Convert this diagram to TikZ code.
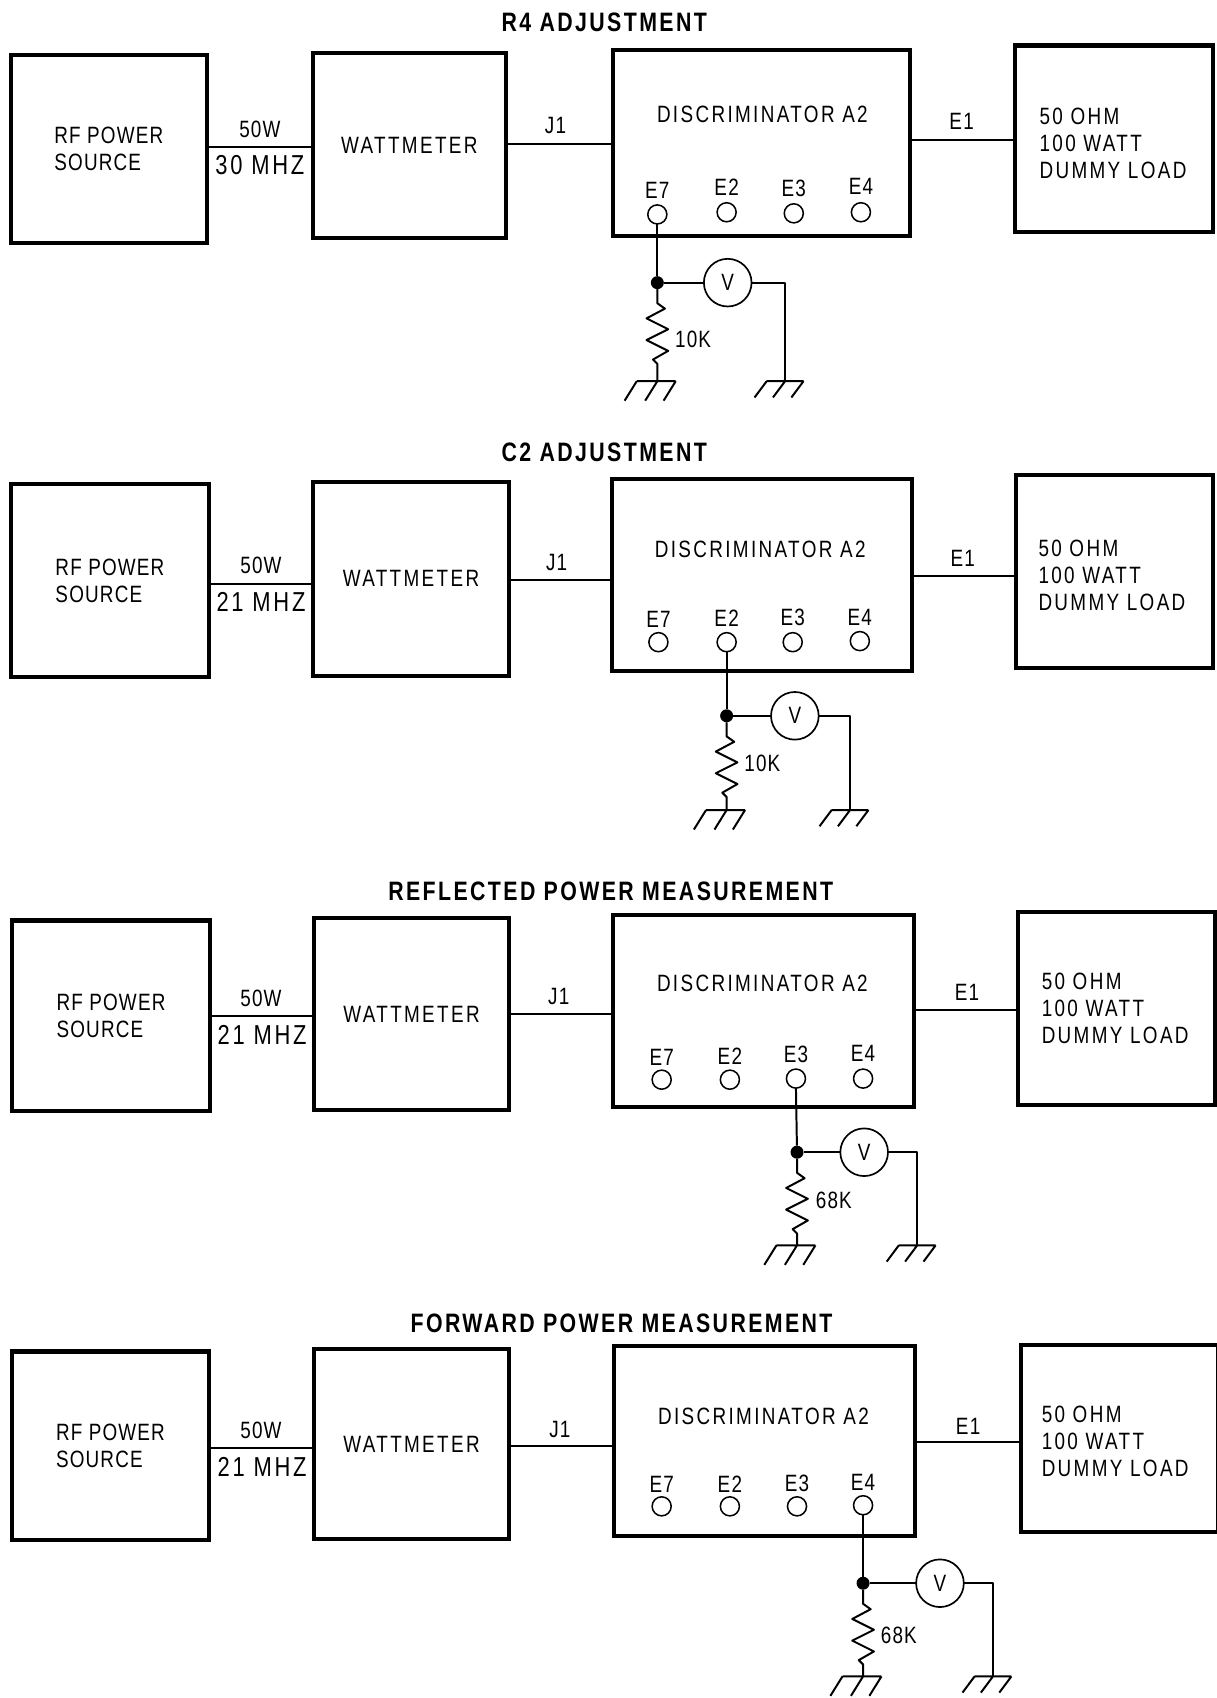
\documentclass[tikz,border=0pt]{standalone}
\usepackage{fontspec}
\setmainfont[FakeStretch=0.8,LetterSpace=4]{Liberation Sans}
\newfontfamily\lblfont[FakeStretch=0.8,LetterSpace=5]{Liberation Sans}
\newfontfamily\widefont[FakeStretch=0.8,LetterSpace=10]{Liberation Sans}
\newfontfamily\ttlfont[FakeStretch=0.8,LetterSpace=9]{Liberation Sans}
\tikzset{
  block/.style={draw=black,line width=2.7pt,inner sep=0pt,outer sep=0pt,align=left,font=\lblfont\fontsize{15.5}{17.7}\selectfont},
  lbl/.style={inner sep=0pt,outer sep=0pt,font=\lblfont\fontsize{15.5}{17.7}\selectfont},
  wide/.style={inner sep=0pt,outer sep=0pt,align=left,font=\widefont\fontsize{15.5}{17.7}\selectfont},
  big/.style={inner sep=0pt,outer sep=0pt,font=\widefont\fontsize{18}{20}\selectfont},
  ttl/.style={inner sep=0pt,outer sep=0pt,font=\ttlfont\bfseries\fontsize{17.5}{20}\selectfont},
  wire/.style={line width=1.3pt,line join=round},
  term/.style={circle,draw=black,line width=1pt,minimum size=0.44cm,inner sep=0pt,outer sep=0pt},
  meter/.style={circle,draw=black,line width=1.1pt,minimum size=1.1cm,inner sep=0pt,outer sep=0pt,font=\lblfont\fontsize{15.5}{17.7}\selectfont},
  jdot/.style={circle,fill=black,minimum size=0.3cm,inner sep=0pt,outer sep=0pt},
}
% block from its two corners
\newcommand\blk[6]{%
  \pgfmathsetmacro\blkw{#4-#2}\pgfmathsetmacro\blkh{#5-#3}%
  \pgfmathsetmacro\blkx{(#2+#4)/2}\pgfmathsetmacro\blky{(#3+#5)/2}%
  \node[block,minimum width=\blkw*0.025cm,minimum height=\blkh*0.025cm] (#1) at (\blkx,\blky) {#6};}
% horizontal connector between two blocks at height y
\newcommand\hconn[3]{%
  \coordinate (lvl) at (0,#3);
  \draw[wire] (lvl -| #1.east) -- (lvl -| #2.west);}
\newcommand\termi[5]{%
  \node[term] (#1) at (#3,#4) {};
  \node[lbl] (#1l) at (#3,#5) {#2};}
% ground symbol: half width, drop
\newcommand\gnd[4]{%
  \draw[wire] ([xshift=-#2*0.025cm]#1) -- ([xshift=#3*0.025cm]#1)
    ([xshift=-#2*0.025cm]#1) -- ++(-0.28cm,#4)
    (#1) -- ++(-0.28cm,#4)
    ([xshift=#3*0.025cm]#1) -- ++(-0.28cm,#4);}
% test circuit
\newcommand\meas[9]{%
  \node[jdot] (#1j) at (#3,#4) {};
  \node[meter] (#1v) at (#5,#4) {V};
  \pgfmathsetmacro\rtop{#4+19}%
  \coordinate (#1rt) at (#3,\rtop);
  \coordinate (#1ga) at (#3,#7);
  \coordinate (#1gb) at (#6,#7);
  \draw[wire] (#2.south) -- (#1j);
  \draw[wire] (#1j) -- (#1v.west);
  \draw[wire] (#1v.east) -| (#1gb);
  \draw[wire] (#1j) -- (#1rt) -- ++(7,5) -- ++(-17,9) -- ++(20,10) -- ++(-20,10) -- ++(20,10) -- ++(-14,8) -- ++(4,4) -- (#1ga);
  \node[lbl] (#1rl) at (#9) {#8};
  \gnd{#1ga}{19}{17}{18}
  \gnd{#1gb}{17}{17}{15}
}
\begin{document}
\begin{tikzpicture}[x=0.025cm,y=-0.025cm]
\useasboundingbox (0,0) rectangle (1123,1568);

% ---------- panel 1
\node[ttl] (t1) at (558,21) {R4 ADJUSTMENT};
\blk{rfa}{10}{51}{191}{224}{RF POWER\\SOURCE}
\blk{wma}{289}{49}{467}{220}{\widefont WATTMETER}
\blk{dia}{566}{46}{840}{218}{}
\blk{loa}{937}{42}{1120}{214}{}
\node[wide,anchor=west] (lta) at (960,132) {50 OHM\\100 WATT\\DUMMY LOAD};
\hconn{rfa}{wma}{136}
\hconn{wma}{dia}{133}
\hconn{dia}{loa}{129}
\node[lbl] (pa) at (240,119) {50W};
\node[big] (fa) at (240,152) {30 MHZ};
\node[lbl] (ja) at (513,116) {J1};
\node[lbl] (ea) at (888,112) {E1};
\node[wide] (da) at (704,106) {DISCRIMINATOR A2};
\termi{ea7}{E7}{607}{198}{176}
\termi{ea2}{E2}{671}{196}{173}
\termi{ea3}{E3}{733}{197}{174}
\termi{ea4}{E4}{795}{196}{172}
\meas{a}{ea7}{607}{261}{672}{725}{352}{10K}{640,313}

% ---------- panel 2
\node[ttl] (t2) at (558,418) {C2 ADJUSTMENT};
\blk{rfb}{10}{447}{193}{625}{RF POWER\\SOURCE}
\blk{wmb}{289}{445}{470}{624}{\widefont WATTMETER}
\blk{dib}{565}{442}{842}{620}{}
\blk{lob}{938}{439}{1120}{617}{}
\node[wide,anchor=west] (ltb) at (959,531) {50 OHM\\100 WATT\\DUMMY LOAD};
\hconn{rfb}{wmb}{539}
\hconn{wmb}{dib}{536}
\hconn{dib}{lob}{532}
\node[lbl] (pb) at (241,522) {50W};
\node[big] (fb) at (241,556) {21 MHZ};
\node[lbl] (jb) at (514,519) {J1};
\node[lbl] (eb) at (889,516) {E1};
\node[wide] (db) at (702,507) {DISCRIMINATOR A2};
\termi{eb7}{E7}{608}{593}{572}
\termi{eb2}{E2}{671}{593}{571}
\termi{eb3}{E3}{732}{593}{570}
\termi{eb4}{E4}{794}{592}{570}
\meas{b}{eb2}{671}{661}{734}{785}{748}{10K}{704,705}

% ---------- panel 3
\node[ttl] (t3) at (564,823) {REFLECTED POWER MEASUREMENT};
\blk{rfc}{11}{850}{194}{1026}{RF POWER\\SOURCE}
\blk{wmc}{290}{848}{470}{1025}{\widefont WATTMETER}
\blk{dic}{566}{845}{844}{1022}{}
\blk{loc}{940}{842}{1122}{1020}{}
\node[wide,anchor=west] (ltc) at (962,931) {50 OHM\\100 WATT\\DUMMY LOAD};
\hconn{rfc}{wmc}{938}
\hconn{wmc}{dic}{936}
\hconn{dic}{loc}{933}
\node[lbl] (pc) at (241,922) {50W};
\node[big] (fc) at (242,956) {21 MHZ};
\node[lbl] (jc) at (516,920) {J1};
\node[lbl] (ec) at (893,916) {E1};
\node[wide] (dc) at (704,908) {DISCRIMINATOR A2};
\termi{ec7}{E7}{611}{997}{976}
\termi{ec2}{E2}{674}{997}{975}
\termi{ec3}{E3}{735}{996}{974}
\termi{ec4}{E4}{797}{996}{973}
\meas{c}{ec3}{736}{1064}{798}{847}{1150}{68K}{770,1108}

% ---------- panel 4
\node[ttl] (t4) at (574,1222) {FORWARD POWER MEASUREMENT};
\blk{rfd}{11}{1248}{193}{1422}{RF POWER\\SOURCE}
\blk{wmd}{290}{1246}{470}{1421}{\widefont WATTMETER}
\blk{did}{567}{1243}{845}{1418}{}
\blk{lod}{943}{1242}{1125}{1415}{}
\node[wide,anchor=west] (ltd) at (962,1331) {50 OHM\\100 WATT\\DUMMY LOAD};
\hconn{rfd}{wmd}{1337}
\hconn{wmd}{did}{1335}
\hconn{did}{lod}{1332}
\node[lbl] (pd) at (241,1321) {50W};
\node[big] (fd) at (242,1355) {21 MHZ};
\node[lbl] (jd) at (517,1320) {J1};
\node[lbl] (ed) at (894,1317) {E1};
\node[wide] (dd) at (705,1308) {DISCRIMINATOR A2};
\termi{ed7}{E7}{611}{1391}{1371}
\termi{ed2}{E2}{674}{1391}{1371}
\termi{ed3}{E3}{736}{1391}{1370}
\termi{ed4}{E4}{797}{1390}{1369}
\meas{d}{ed4}{797}{1462}{868}{917}{1548}{68K}{830,1510}
\end{tikzpicture}
\end{document}
